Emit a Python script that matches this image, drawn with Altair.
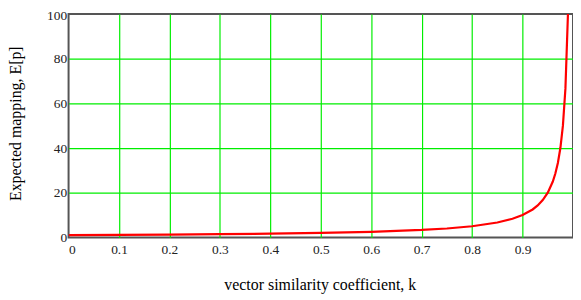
import altair as alt
import pandas as pd

# Values
k_values = [0.0, 0.1, 0.2, 0.3, 0.4, 0.5, 0.6, 0.7, 0.75, 0.8, 0.85, 0.88, 0.9,
            0.92, 0.93, 0.94, 0.95, 0.96, 0.965, 0.97, 0.975, 0.98, 0.985, 0.99]
e_values = [1.0, 1.11, 1.25, 1.43, 1.67, 2.0, 2.5, 3.33, 4.0, 5.0, 6.67, 8.33, 10.0,
            12.5, 14.3, 16.7, 20.0, 25.0, 28.6, 33.3, 40.0, 50.0, 66.7, 100.0]

x_ticks = [0, 0.1, 0.2, 0.3, 0.4, 0.5, 0.6, 0.7, 0.8, 0.9, 1]
y_ticks = [0, 20, 40, 60, 80, 100]

df = pd.DataFrame({"k": k_values, "E": e_values})

FONT = "Liberation Serif"
GRID = "#00ee00"

chart = alt.Chart(df).mark_line(color="#ff0000", strokeWidth=2.2, clip=True).encode(
    x=alt.X("k:Q",
            scale=alt.Scale(domain=[0, 1], nice=False, zero=False),
            axis=alt.Axis(values=x_ticks, title="vector similarity coefficient, k",
                          format="~g", grid=True, gridColor=GRID, gridWidth=1.2,
                          gridOpacity=alt.expr("datum.value == 0 || datum.value == 1 ? 0 : 1"),
                          domain=False, ticks=False, labelPadding=5,
                          labelFont=FONT, labelFontSize=13.5, labelColor="#222222",
                          labelAlign=alt.expr("datum.value == 0 || datum.value == 1 ? 'left' : 'center'"),
                          labelFlush=False,
                          titleFont=FONT, titleFontSize=16, titleFontWeight="normal",
                          titleColor="#000000", titleX=253, titleY=47,
                          titleBaseline="middle", titleAlign="center")),
    y=alt.Y("E:Q",
            scale=alt.Scale(domain=[0, 100], nice=False),
            axis=alt.Axis(values=y_ticks, title="Expected mapping, E[p]",
                          grid=True, gridColor=GRID, gridWidth=1.2,
                          gridOpacity=alt.expr("datum.value == 0 || datum.value == 100 ? 0 : 1"),
                          domain=False, ticks=False, labelPadding=2,
                          labelOffset=alt.expr("datum.value == 100 ? 2 : 0"),
                          labelFont=FONT, labelFontSize=13.5, labelColor="#222222",
                          labelFlush=False,
                          titleFont=FONT, titleFontSize=16, titleFontWeight="normal",
                          titleColor="#000000", titleX=-53, titleY=110,
                          titleAngle=270, titleBaseline="middle", titleAlign="center")),
).properties(
    width=508,
    height=225,
    background="#ffffff",
    autosize=alt.AutoSizeParams(type="none"),
    padding={"left": 61, "top": 5, "right": 0, "bottom": 60},
).configure_view(
    stroke="#555555", strokeWidth=2
)

chart.save("out.html", embed_options={"renderer": "svg", "actions": False})
